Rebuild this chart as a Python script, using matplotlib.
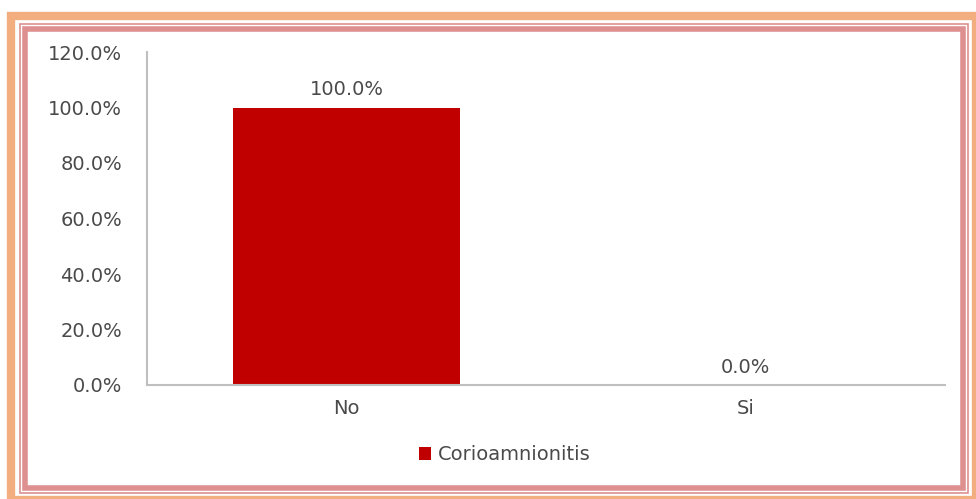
import matplotlib
matplotlib.use("Agg")
import matplotlib.pyplot as plt
from matplotlib.patches import Rectangle
from matplotlib.ticker import FuncFormatter

categories = ["No", "Si"]
values = [100.0, 0.0]
series_name = "Corioamnionitis"
bar_color = "#C00000"
text_color = "#4A4A4A"

W, H = 976, 499
fig = plt.figure(figsize=(W / 100, H / 100), dpi=100)
plt.rcParams["font.family"] = ["DejaVu Sans"]


def frame(x0, y0, x1, y1, color, lw):
    # rectangle in pixel coords (top-left origin)
    fig.patches.append(Rectangle((x0 / W, 1 - y1 / H), (x1 - x0) / W, (y1 - y0) / H,
                                 transform=fig.transFigure, fill=False,
                                 edgecolor=color, linewidth=lw, zorder=0))


# decorative page border
frame(11, 16, 976, 500, "#F3AE80", 6)
frame(20, 24, 968, 493, "#DE9090", 1.2)
frame(25, 29, 963, 488, "#DE9090", 4)

ax = fig.add_axes([147 / W, 1 - 385 / H, (945 - 147) / W, (385 - 52) / H])
bars = ax.bar(range(len(categories)), values, width=0.57, color=bar_color, label=series_name)

ax.set_xlim(-0.5, 1.5)
ax.set_ylim(0, 120)
ax.set_yticks(range(0, 121, 20))
ax.yaxis.set_major_formatter(FuncFormatter(lambda v, p: f"{v:.1f}%"))
ax.set_xticks(range(len(categories)))
ax.set_xticklabels(categories)

for s in ["top", "right"]:
    ax.spines[s].set_visible(False)
for s in ["left", "bottom"]:
    ax.spines[s].set_color("#BFBFBF")
    ax.spines[s].set_linewidth(1.5)
ax.tick_params(axis="both", length=0, labelsize=14, colors=text_color, pad=10)
ax.tick_params(axis="y", pad=18)

for i, v in enumerate(values):
    ax.text(i, v + 3, f"{v:.1f}%", ha="center", va="bottom", fontsize=14, color=text_color)

fig.legend(handles=[bars], labels=[series_name], loc="center",
           bbox_to_anchor=(505 / W, 1 - 455 / H), frameon=False, fontsize=14,
           handlelength=0.6, handleheight=0.6, handletextpad=0.4, labelcolor=text_color)

fig.savefig("out.png", dpi=100)
